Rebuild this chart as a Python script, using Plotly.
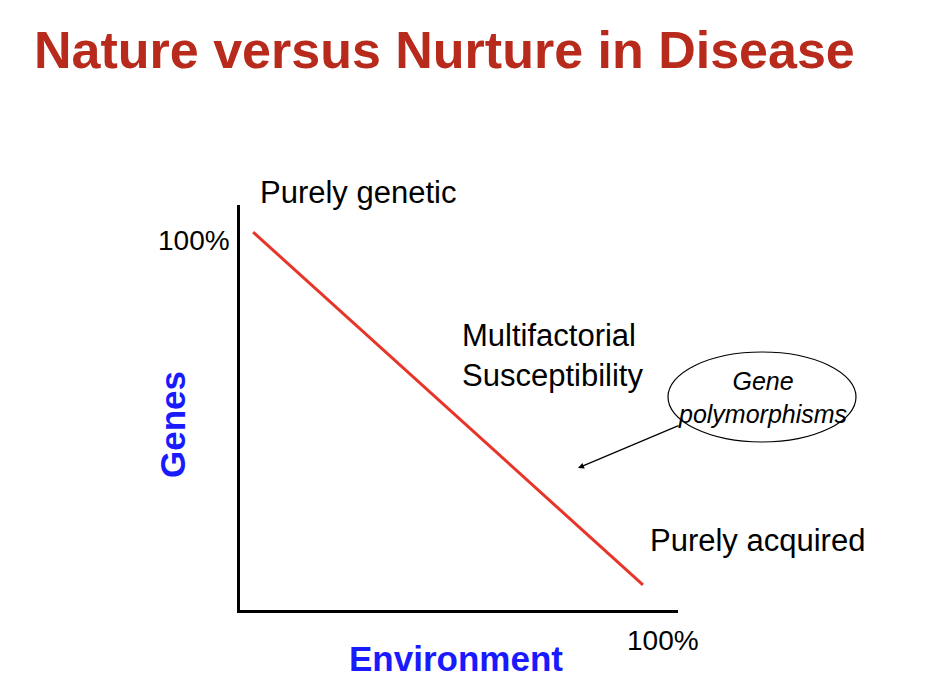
import plotly.graph_objects as go

line_x = [3, 92]
line_y = [93.3, 6.2]

W, H = 928, 692
L, R, T, B = 240, 678, 205, 610
O = 8
def px(x): return (x - L) / (R - L)
def py(y): return (B - y) / (B - T)

fig = go.Figure(go.Scatter(x=line_x, y=line_y, mode="lines",
                           line=dict(color="#e8352a", width=3)))
F = "Liberation Sans, Arial"
ann = []
def txt(x, y, s, size, color="black", xa="left", bold=False, italic=False, angle=0):
    if bold: s = "<b>" + s + "</b>"
    if italic: s = "<i>" + s + "</i>"
    ann.append(dict(x=px(x), y=py(y), xref="paper", yref="paper", text=s, showarrow=False,
                    xanchor=xa, yanchor="middle", textangle=angle, align=xa if xa != "right" else "right",
                    font=dict(family=F, size=size, color=color)))
txt(32, 50, "Nature versus Nurture in Disease", 52, "#b82a1c", bold=True)
txt(258, 192, "Purely genetic", 31)
txt(460, 355, "Multifactorial<br>Susceptibility", 31)
txt(648, 540, "Purely acquired", 31)
txt(762, 397, "Gene<br>polymorphisms", 25, xa="center", italic=True)
txt(232, 240, "100%", 28, xa="right")
txt(663, 640, "100%", 28, xa="center")
txt(456, 658, "Environment", 35, "#1a1aff", xa="center", bold=True)
txt(172, 425, "Genes", 35, "#1a1aff", xa="center", bold=True, angle=-90)
ann.append(dict(x=px(578), y=py(468), xref="paper", yref="paper", ax=102, ay=-43,
                showarrow=True, arrowhead=2, arrowsize=1, arrowwidth=1.2,
                arrowcolor="black", text=""))
fig.update_layout(
    width=W, height=H, margin=dict(l=L - O, r=W - R + O, t=T - O, b=H - B + O),
    paper_bgcolor="white", plot_bgcolor="white", showlegend=False,
    annotations=ann,
    xaxis=dict(range=[0, 100], showgrid=False, zeroline=False, showticklabels=False,
               ticks="", showline=True, linecolor="black", linewidth=3),
    yaxis=dict(range=[0, 100], showgrid=False, zeroline=False, showticklabels=False,
               ticks="", showline=True, linecolor="black", linewidth=3),
    shapes=[dict(type="circle", xref="paper", yref="paper",
                 x0=px(668), x1=px(856), y0=py(442), y1=py(352),
                 line=dict(color="black", width=1.2))],
)
fig.write_html("out.html")
